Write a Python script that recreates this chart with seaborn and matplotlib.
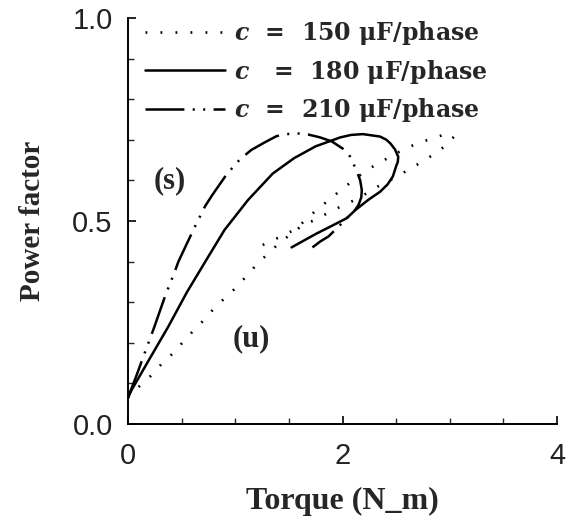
import matplotlib
matplotlib.use("Agg")
import matplotlib.pyplot as plt
import seaborn as sns
import pandas as pd

# ---- data ----
x150 = [0.0, 0.11, 0.21, 0.31, 0.41, 0.51, 0.60, 0.70, 0.79, 0.89, 1.0, 1.09, 1.18, 1.29,
        1.40, 1.52, 1.64, 1.74, 1.83, 1.93, 2.02, 2.125, 2.23, 2.33, 2.44, 2.55, 2.65, 2.77,
        2.875, 2.97, 3.04, 2.94, 2.82, 2.70, 2.57, 2.46, 2.33, 2.21, 2.09, 1.98, 1.86, 1.74,
        1.62, 1.56, 1.485, 1.386, 1.30, 1.215]
y150 = [0.065, 0.094, 0.118, 0.147, 0.172, 0.201, 0.227, 0.254, 0.281, 0.307, 0.334, 0.36,
        0.387, 0.416, 0.443, 0.468, 0.492, 0.502, 0.515, 0.529, 0.540, 0.553, 0.569, 0.585,
        0.600, 0.616, 0.632, 0.650, 0.669, 0.687, 0.708, 0.712, 0.702, 0.691, 0.677, 0.660,
        0.642, 0.622, 0.598, 0.575, 0.549, 0.523, 0.494, 0.479, 0.470, 0.457, 0.447, 0.435]

x180 = [0.0, 0.034, 0.2, 0.376, 0.55, 0.73, 0.90, 1.12, 1.35, 1.55, 1.75, 1.98, 2.08, 2.19,
        2.35, 2.41, 2.45, 2.49, 2.52, 2.515, 2.50, 2.47, 2.42, 2.35, 2.24, 2.12, 2.04, 1.90,
        1.75, 1.525]
y180 = [0.065, 0.084, 0.16, 0.24, 0.325, 0.404, 0.478, 0.552, 0.617, 0.655, 0.684, 0.706,
        0.712, 0.714, 0.708, 0.700, 0.69, 0.676, 0.658, 0.645, 0.635, 0.61, 0.59, 0.572,
        0.552, 0.527, 0.507, 0.488, 0.468, 0.435]

x210 = [0.0, 0.08, 0.16, 0.236, 0.35, 0.43, 0.47, 0.55, 0.624, 0.72, 0.786, 0.92, 1.044,
        1.15, 1.277, 1.385, 1.48, 1.57, 1.68, 1.79, 1.90, 2.01, 2.07, 2.13, 2.165, 2.18,
        2.175, 2.15, 2.12, 2.07, 1.97, 1.87, 1.795, 1.72]
y210 = [0.065, 0.12, 0.178, 0.232, 0.318, 0.371, 0.40, 0.445, 0.486, 0.537, 0.564, 0.615,
        0.652, 0.675, 0.694, 0.709, 0.714, 0.716, 0.713, 0.706, 0.696, 0.677, 0.659, 0.625,
        0.60, 0.576, 0.558, 0.54, 0.528, 0.515, 0.488, 0.462, 0.450, 0.435]

labels = [r"$c$  =  150 μF/phase", r"$c$   =  180 μF/phase", r"$c$  =  210 μF/phase"]
x_ticks = [0, 2, 4]
y_ticks = [0.0, 0.5, 1.0]
y_ticklabels = ["0.0", "0.5", "1.0"]

# ---- style ----
sns.set_theme(style="ticks")
plt.rcParams["font.family"] = ["Liberation Sans", "DejaVu Sans"]
plt.rcParams["mathtext.fontset"] = "custom"
plt.rcParams["mathtext.it"] = "DejaVu Serif:italic:bold"
plt.rcParams["mathtext.rm"] = "DejaVu Serif:bold"
plt.rcParams["mathtext.bf"] = "DejaVu Serif:bold"
plt.rcParams["lines.scale_dashes"] = False

fig = plt.figure(figsize=(5.75, 5.26), dpi=100)
ax = fig.add_axes([128 / 575, 1 - 424 / 526, (557 - 128) / 575, (424 - 18) / 526])

styles = [(0, (1.3, 9.5)), "-", (0, (28, 6.0, 1.5, 6.0, 1.5, 6.0))]
widths = [1.9, 1.8, 1.8]
series = [(x150, y150), (x180, y180), (x210, y210)]
for (xs, ys), lab, ls, lw in zip(series, labels, styles, widths):
    df = pd.DataFrame({"torque": xs, "pf": ys})
    sns.lineplot(data=df, x="torque", y="pf", sort=False, estimator=None, ax=ax,
                 color="black", linestyle=ls, linewidth=lw, label=lab)

ax.set_xlim(0, 4)
ax.set_ylim(0, 1.0)
ax.set_xticks(x_ticks)
ax.set_xticklabels([str(t) for t in x_ticks])
ax.set_yticks(y_ticks)
ax.set_yticklabels(y_ticklabels)
ax.set_xticks([0.5, 1, 1.5, 2.5, 3, 3.5], minor=True)
ax.set_yticks([0.1, 0.2, 0.3, 0.4, 0.6, 0.7, 0.8, 0.9], minor=True)
ax.tick_params(axis="both", which="major", direction="in", length=6, width=1.2,
               labelsize=21, colors="black", labelcolor="#222222")
ax.tick_params(axis="both", which="minor", direction="in", length=4, width=1.0)
ax.tick_params(axis="x", which="major", pad=13)
ax.tick_params(axis="y", which="major", pad=11)
sns.despine(ax=ax)
for s in ["left", "bottom"]:
    ax.spines[s].set_linewidth(1.4)
    ax.spines[s].set_color("black")

serif = ["Liberation Serif", "DejaVu Serif"]
ax.set_xlabel("Torque (N_m)", fontfamily=serif, fontweight="bold", fontsize=23, labelpad=12)
ax.set_ylabel("Power factor", fontfamily=serif, fontweight="bold", fontsize=21, labelpad=19)

ax.text(0.39, 0.60, "(s)", fontfamily=serif, fontweight="bold", fontsize=22,
        ha="center", va="center")
ax.text(1.146, 0.209, "(u)", fontfamily=serif, fontweight="bold", fontsize=22,
        ha="center", va="center")

leg = ax.legend(loc="upper left", bbox_to_anchor=(145 / 575, 1 - 19 / 526),
                bbox_transform=fig.transFigure, frameon=False, borderpad=0,
                borderaxespad=0, handlelength=3.4, handletextpad=0.35, labelspacing=0.45,
                prop={"family": ["DejaVu Serif"], "weight": "bold", "size": 17})

fig.savefig("out.png", dpi=100)
